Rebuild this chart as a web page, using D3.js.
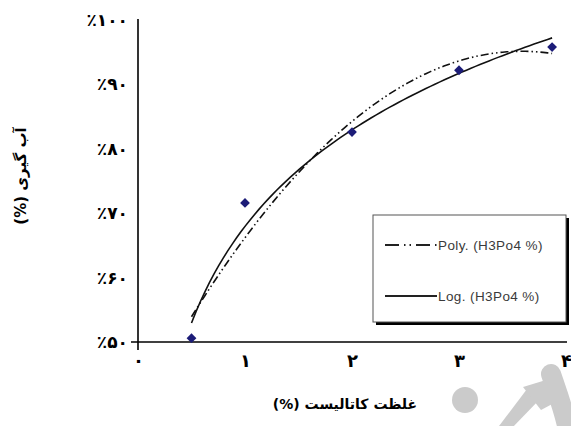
<!DOCTYPE html>
<html>
<head>
<meta charset="utf-8">
<script src="https://cdn.jsdelivr.net/npm/d3@7"></script>
<style>
  body { margin: 0; background: #fff; }
  svg { display: block; }
</style>
</head>
<body>
<div id="chart"></div>
<script>
// catalyst concentration (%) vs dewatering (%)
var concentration = [0.5, 1, 2, 3, 3.87]
var dewatering = [50.6, 71.6, 82.6, 92.2, 95.8]
var xTicks = [0, 1, 2, 3, 4]
var yTicks = [50, 60, 70, 80, 90, 100]
var legendLabels = ["Poly. (H3Po4 %)", "Log. (H3Po4 %)"]

var width = 571, height = 426
var faDigits = "۰۱۲۳۴۵۶۷۸۹"
function fa(n) { return String(n).replace(/\d/g, c => faDigits[+c]) }

const svg = d3.select("#chart").append("svg")
    .attr("width", width).attr("height", height)

var xScale = d3.scaleLinear().domain([0, 4]).range([138, 566])
var yScale = d3.scaleLinear().domain([50, 100]).range([342, 20])

// watermark
var wm = "#cbcbcb"
svg.append("circle").attr("cx", 465).attr("cy", 400).attr("r", 13).attr("fill", wm)
svg.append("path")
    .attr("d", "M551,374 C557,392 564,410 568,430")
    .attr("stroke", wm).attr("stroke-width", 20).attr("stroke-linecap", "round").attr("fill", "none")
svg.append("path")
    .attr("d", "M527,389 L496,430 L510,430 L541,398 Z")
    .attr("fill", wm)
svg.append("path")
    .attr("d", "M523,387 L546,380 L556,402 L541,410 Z")
    .attr("fill", wm)

// axes lines
svg.append("line")
    .attr("x1", xScale(0)).attr("x2", xScale(0))
    .attr("y1", yScale(100) - 1).attr("y2", yScale(50) + 8)
    .attr("stroke", "#000").attr("stroke-width", 1.6)
svg.append("line")
    .attr("x1", xScale(0) - 7).attr("x2", xScale(4) + 1)
    .attr("y1", yScale(50)).attr("y2", yScale(50))
    .attr("stroke", "#000").attr("stroke-width", 1.6)

var yAxis = svg.append("g")
    .attr("transform", "translate(" + xScale(0) + ",0)")
    .call(d3.axisLeft(yScale).tickValues(yTicks).tickSize(0).tickPadding(10)
        .tickFormat(d => "٪" + fa(d)))
yAxis.select(".domain").remove()
yAxis.selectAll("text")
    .attr("direction", "ltr")
    .style("font-family", "DejaVu Sans").style("font-weight", "bold").style("font-size", "17px")

var xAxis = svg.append("g")
    .attr("transform", "translate(0," + yScale(50) + ")")
    .call(d3.axisBottom(xScale).tickValues(xTicks).tickSize(0).tickPadding(12)
        .tickFormat(d => fa(d)))
xAxis.select(".domain").remove()
xAxis.selectAll("text")
    .style("font-family", "DejaVu Sans").style("font-weight", "bold").style("font-size", "18px")

// trendlines (least squares, like the spreadsheet did)
var lx = concentration.map(Math.log)
var mlx = d3.mean(lx), my = d3.mean(dewatering)
var logA = d3.sum(lx, (v, i) => (v - mlx) * (dewatering[i] - my)) / d3.sum(lx, v => (v - mlx) * (v - mlx))
var logB = my - logA * mlx

function polyFit(xs, ys) {
    var s = [0, 0, 0, 0, 0], t = [0, 0, 0]
    xs.forEach((x, i) => {
        for (var k = 0; k < 5; k++) s[k] += Math.pow(x, k)
        for (var k = 0; k < 3; k++) t[k] += Math.pow(x, k) * ys[i]
    })
    var M = [[s[0], s[1], s[2], t[0]], [s[1], s[2], s[3], t[1]], [s[2], s[3], s[4], t[2]]]
    for (var c = 0; c < 3; c++) {
        for (var r = c + 1; r < 3; r++) {
            var f = M[r][c] / M[c][c]
            for (var k = c; k < 4; k++) M[r][k] -= f * M[c][k]
        }
    }
    var b = [0, 0, 0]
    for (var r = 2; r >= 0; r--) {
        var v = M[r][3]
        for (var k = r + 1; k < 3; k++) v -= M[r][k] * b[k]
        b[r] = v / M[r][r]
    }
    return b
}
var pc = polyFit(concentration, dewatering)

var xs = d3.range(0, 81).map(i => d3.min(concentration) + i * (d3.max(concentration) - d3.min(concentration)) / 80)
var line = d3.line().x(d => xScale(d[0])).y(d => yScale(d[1]))

svg.append("path")
    .datum(xs.map(x => [x, pc[0] + pc[1] * x + pc[2] * x * x]))
    .attr("d", line).attr("fill", "none")
    .attr("stroke", "#111").attr("stroke-width", 1.6).attr("stroke-dasharray", "8,3,1.5,3,1.5,3")
svg.append("path")
    .datum(xs.map(x => [x, logA * Math.log(x) + logB]))
    .attr("d", line).attr("fill", "none")
    .attr("stroke", "#111").attr("stroke-width", 1.6)

// points
svg.append("g").selectAll("path")
    .data(concentration)
    .enter().append("path")
    .attr("transform", (d, i) => "translate(" + xScale(d) + "," + yScale(dewatering[i]) + ") rotate(45)")
    .attr("d", d3.symbol().type(d3.symbolSquare).size(48))
    .attr("fill", "#1c1c78")

// legend
var lg = svg.append("g").attr("transform", "translate(373,215)")
lg.append("rect").attr("x", 3).attr("y", 3).attr("width", 193).attr("height", 107).attr("fill", "#000")
lg.append("rect").attr("x", 0).attr("y", 0).attr("width", 193).attr("height", 107)
    .attr("fill", "#fff").attr("stroke", "#555").attr("stroke-width", 1)
legendLabels.forEach((lab, i) => {
    var yy = 30 + i * 51
    lg.append("line").attr("x1", 12).attr("x2", 64).attr("y1", yy).attr("y2", yy)
        .attr("stroke", "#222").attr("stroke-width", 1.8)
        .attr("stroke-dasharray", i === 0 ? "14,5,1.5,4,1.5,5" : null)
    lg.append("text").attr("x", 65).attr("y", yy + 5)
        .style("font-family", "Liberation Sans").style("font-size", "13.5px")
        .style("letter-spacing", "0.4px").attr("fill", "#3a3a3a")
        .text(lab)
})

// axis titles
svg.append("text")
    .attr("transform", "translate(26,176) rotate(-90)")
    .attr("text-anchor", "middle").attr("direction", "rtl")
    .style("font-family", "DejaVu Sans").style("font-weight", "bold").style("font-size", "15px")
    .text("آب گیری (%)")
svg.append("text")
    .attr("x", 345).attr("y", 409)
    .attr("text-anchor", "middle").attr("direction", "rtl")
    .style("font-family", "DejaVu Sans").style("font-weight", "bold").style("font-size", "14px")
    .text("غلظت کاتالیست (%)")
</script>
</body>
</html>
